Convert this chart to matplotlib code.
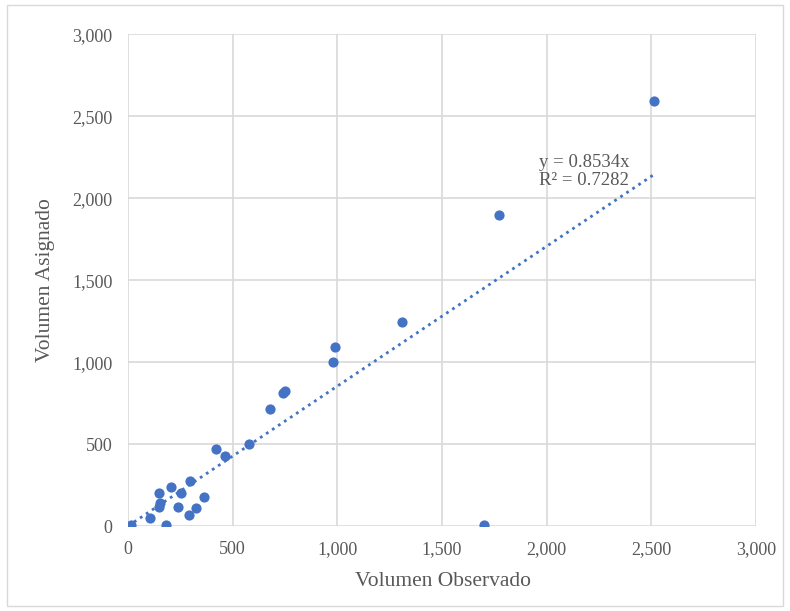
import matplotlib
matplotlib.use("Agg")
import matplotlib.pyplot as plt
import numpy as np
from matplotlib.ticker import FuncFormatter
from matplotlib.patches import Rectangle

observed = [13, 105, 180, 150, 153, 150, 204, 255, 237, 296, 293, 325, 365,
            420, 465, 580, 678, 742, 750, 981, 989, 1311, 1701, 1774, 2515]
assigned = [5, 47, 4, 118, 138, 203, 240, 203, 114, 276, 67, 108, 175,
            468, 430, 500, 717, 812, 825, 1002, 1093, 1246, 6, 1896, 2593]
slope = 0.8534
r2 = 0.7282
ticks = [0, 500, 1000, 1500, 2000, 2500, 3000]

plt.rcParams['font.family'] = ['Liberation Serif', 'DejaVu Serif']
fig = plt.figure(figsize=(7.9, 6.11), dpi=100)
fig.patches.append(Rectangle((0.009, 0.009), 0.982, 0.982, transform=fig.transFigure,
                             fill=False, edgecolor='#d9d9d9', linewidth=1))
ax = fig.add_axes([0.162, 0.139, 0.795, 0.805])

ax.scatter(observed, assigned, s=54, color='#4472C4', zorder=3, linewidths=0)
xmax = max(observed)
xs = np.array([0, xmax])
ax.plot(xs, slope * xs, linestyle=(0, (1, 1.6)), color='#4472C4', linewidth=2, zorder=2)

ax.text(1965, 2220, f"y = {slope}x", fontsize=13.5, color='#595959', va='center')
ax.text(1965, 2110, f"R² = {r2}", fontsize=13.5, color='#595959', va='center')

ax.set_xlim(0, 3000)
ax.set_ylim(0, 3000)
ax.set_xticks(ticks)
ax.set_yticks(ticks)
fmt = FuncFormatter(lambda v, p: f"{int(v):,}")
ax.xaxis.set_major_formatter(fmt)
ax.yaxis.set_major_formatter(fmt)
ax.grid(True, color='#d9d9d9', linewidth=1.2)
ax.set_axisbelow(True)
for s in ax.spines.values():
    s.set_visible(False)
ax.tick_params(length=0, labelsize=13, labelcolor='#595959')
ax.tick_params(axis='y', pad=11)
ax.tick_params(axis='x', pad=11)
fig.text(0.561, 0.0475, "Volumen Observado", fontsize=15.5, color='#595959',
         ha='center', va='center')
fig.text(0.057, 0.542, "Volumen Asignado", fontsize=15.5, color='#595959',
         ha='center', va='center', rotation=90)

fig.savefig("out.png", dpi=100)
